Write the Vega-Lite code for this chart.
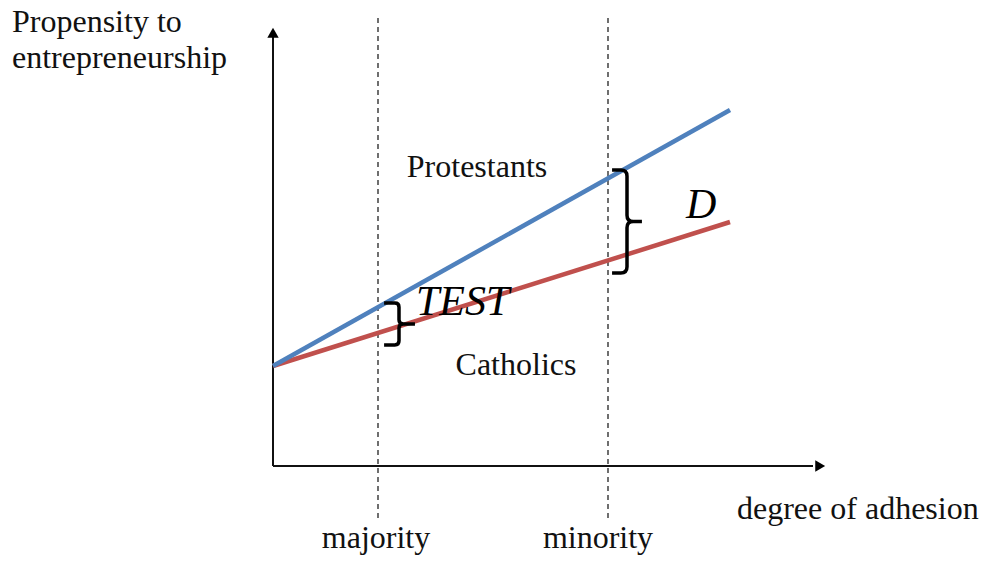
{
  "$schema": "https://vega.github.io/schema/vega-lite/v6.json",
  "width": 990,
  "height": 573,
  "autosize": {"type": "fit", "contains": "padding"},
  "padding": 0,
  "background": "white",
  "config": {"view": {"stroke": null}},
  "datasets": {
    "axes": [
      {"x": 0, "y": 0, "x2": 0, "y2": 430},
      {"x": 0, "y": 0, "x2": 540, "y2": 0}
    ],
    "guides": [
      {"label": "majority", "x": 105, "y": -52, "y2": 448},
      {"label": "minority", "x": 335, "y": -52, "y2": 448}
    ],
    "catholics": [
      {"x": 0, "y": 100},
      {"x": 457, "y": 244}
    ],
    "protestants": [
      {"x": 0, "y": 100},
      {"x": 457, "y": 356}
    ],
    "labels": [
      {"text": "Protestants", "x": 204, "y": 289},
      {"text": "Catholics", "x": 243, "y": 91},
      {"text": "majority", "x": 103, "y": -82},
      {"text": "minority", "x": 325, "y": -82}
    ],
    "leftlabels": [
      {"text": "Propensity to", "x": -261, "y": 434},
      {"text": "entrepreneurship", "x": -261, "y": 398},
      {"text": "degree of adhesion", "x": 464, "y": -53}
    ],
    "italics": [
      {"text": "TEST", "x": 143, "y": 151},
      {"text": "D", "x": 413, "y": 248}
    ]
  },
  "layer": [
    {
      "data": {"name": "guides"},
      "mark": {"type": "rule", "stroke": "#222222", "strokeWidth": 1.3, "strokeDash": [5, 4]},
      "encoding": {
        "x": {"field": "x", "type": "quantitative", "scale": {"domain": [-273, 717], "nice": false, "zero": false}, "axis": null},
        "y": {"field": "y", "type": "quantitative", "scale": {"domain": [-107, 466], "nice": false, "zero": false}, "axis": null},
        "y2": {"field": "y2"}
      }
    },
    {
      "data": {"name": "axes"},
      "mark": {"type": "rule", "stroke": "#111111", "strokeWidth": 2},
      "encoding": {
        "x": {"field": "x", "type": "quantitative", "scale": {"domain": [-273, 717], "nice": false, "zero": false}, "axis": null},
        "y": {"field": "y", "type": "quantitative", "scale": {"domain": [-107, 466], "nice": false, "zero": false}, "axis": null},
        "x2": {"field": "x2"},
        "y2": {"field": "y2"}
      }
    },
    {
      "data": {"values": [{"x": 0, "y": 433.2}]},
      "mark": {"type": "point", "shape": "triangle-up", "size": 130, "filled": true, "color": "#000000", "opacity": 1},
      "encoding": {
        "x": {"field": "x", "type": "quantitative", "scale": {"domain": [-273, 717], "nice": false, "zero": false}, "axis": null},
        "y": {"field": "y", "type": "quantitative", "scale": {"domain": [-107, 466], "nice": false, "zero": false}, "axis": null}
      }
    },
    {
      "data": {"values": [{"x": 547.2, "y": 0}]},
      "mark": {"type": "point", "shape": "triangle-right", "size": 130, "filled": true, "color": "#000000", "opacity": 1},
      "encoding": {
        "x": {"field": "x", "type": "quantitative", "scale": {"domain": [-273, 717], "nice": false, "zero": false}, "axis": null},
        "y": {"field": "y", "type": "quantitative", "scale": {"domain": [-107, 466], "nice": false, "zero": false}, "axis": null}
      }
    },
    {
      "data": {"name": "catholics"},
      "mark": {"type": "line", "color": "#C0504D", "strokeWidth": 4.5, "strokeCap": "butt"},
      "encoding": {
        "x": {"field": "x", "type": "quantitative", "scale": {"domain": [-273, 717], "nice": false, "zero": false}, "axis": null},
        "y": {"field": "y", "type": "quantitative", "scale": {"domain": [-107, 466], "nice": false, "zero": false}, "axis": null}
      }
    },
    {
      "data": {"name": "protestants"},
      "mark": {"type": "line", "color": "#4F81BD", "strokeWidth": 4.5, "strokeCap": "butt"},
      "encoding": {
        "x": {"field": "x", "type": "quantitative", "scale": {"domain": [-273, 717], "nice": false, "zero": false}, "axis": null},
        "y": {"field": "y", "type": "quantitative", "scale": {"domain": [-107, 466], "nice": false, "zero": false}, "axis": null}
      }
    },
    {
      "data": {"values": [{"brace": "TEST", "x": 126, "y": 142}]},
      "mark": {"type": "point", "filled": false, "stroke": "#000000", "strokeWidth": 3.5, "opacity": 1, "size": 1764,
        "shape": "M -0.71 -1 L -0.2 -1 Q 0 -1 0 -0.8 L 0 -0.2 Q 0 0 0.2 0 L 0.76 0 M 0.2 0 Q 0 0 0 0.2 L 0 0.8 Q 0 1 -0.2 1 L -0.71 1"},
      "encoding": {
        "x": {"field": "x", "type": "quantitative", "scale": {"domain": [-273, 717], "nice": false, "zero": false}, "axis": null},
        "y": {"field": "y", "type": "quantitative", "scale": {"domain": [-107, 466], "nice": false, "zero": false}, "axis": null}
      }
    },
    {
      "data": {"values": [{"brace": "D", "x": 354, "y": 244.5}]},
      "mark": {"type": "point", "filled": false, "stroke": "#000000", "strokeWidth": 3.5, "opacity": 1, "size": 10609,
        "shape": "M -0.29 -1 L -0.12 -1 Q 0 -1 0 -0.88 L 0 -0.12 Q 0 0 0.12 0 L 0.29 0 M 0.12 0 Q 0 0 0 0.12 L 0 0.88 Q 0 1 -0.12 1 L -0.29 1"},
      "encoding": {
        "x": {"field": "x", "type": "quantitative", "scale": {"domain": [-273, 717], "nice": false, "zero": false}, "axis": null},
        "y": {"field": "y", "type": "quantitative", "scale": {"domain": [-107, 466], "nice": false, "zero": false}, "axis": null}
      }
    },
    {
      "data": {"name": "labels"},
      "mark": {"type": "text", "font": "Liberation Serif", "fontSize": 32, "color": "#111111", "align": "center", "baseline": "alphabetic"},
      "encoding": {
        "x": {"field": "x", "type": "quantitative", "scale": {"domain": [-273, 717], "nice": false, "zero": false}, "axis": null},
        "y": {"field": "y", "type": "quantitative", "scale": {"domain": [-107, 466], "nice": false, "zero": false}, "axis": null},
        "text": {"field": "text"}
      }
    },
    {
      "data": {"name": "leftlabels"},
      "mark": {"type": "text", "font": "Liberation Serif", "fontSize": 32, "color": "#111111", "align": "left", "baseline": "alphabetic"},
      "encoding": {
        "x": {"field": "x", "type": "quantitative", "scale": {"domain": [-273, 717], "nice": false, "zero": false}, "axis": null},
        "y": {"field": "y", "type": "quantitative", "scale": {"domain": [-107, 466], "nice": false, "zero": false}, "axis": null},
        "text": {"field": "text"}
      }
    },
    {
      "data": {"name": "italics"},
      "mark": {"type": "text", "font": "Liberation Serif", "fontSize": 42, "fontStyle": "italic", "color": "#000000", "align": "left", "baseline": "alphabetic"},
      "encoding": {
        "x": {"field": "x", "type": "quantitative", "scale": {"domain": [-273, 717], "nice": false, "zero": false}, "axis": null},
        "y": {"field": "y", "type": "quantitative", "scale": {"domain": [-107, 466], "nice": false, "zero": false}, "axis": null},
        "text": {"field": "text"}
      }
    }
  ]
}
